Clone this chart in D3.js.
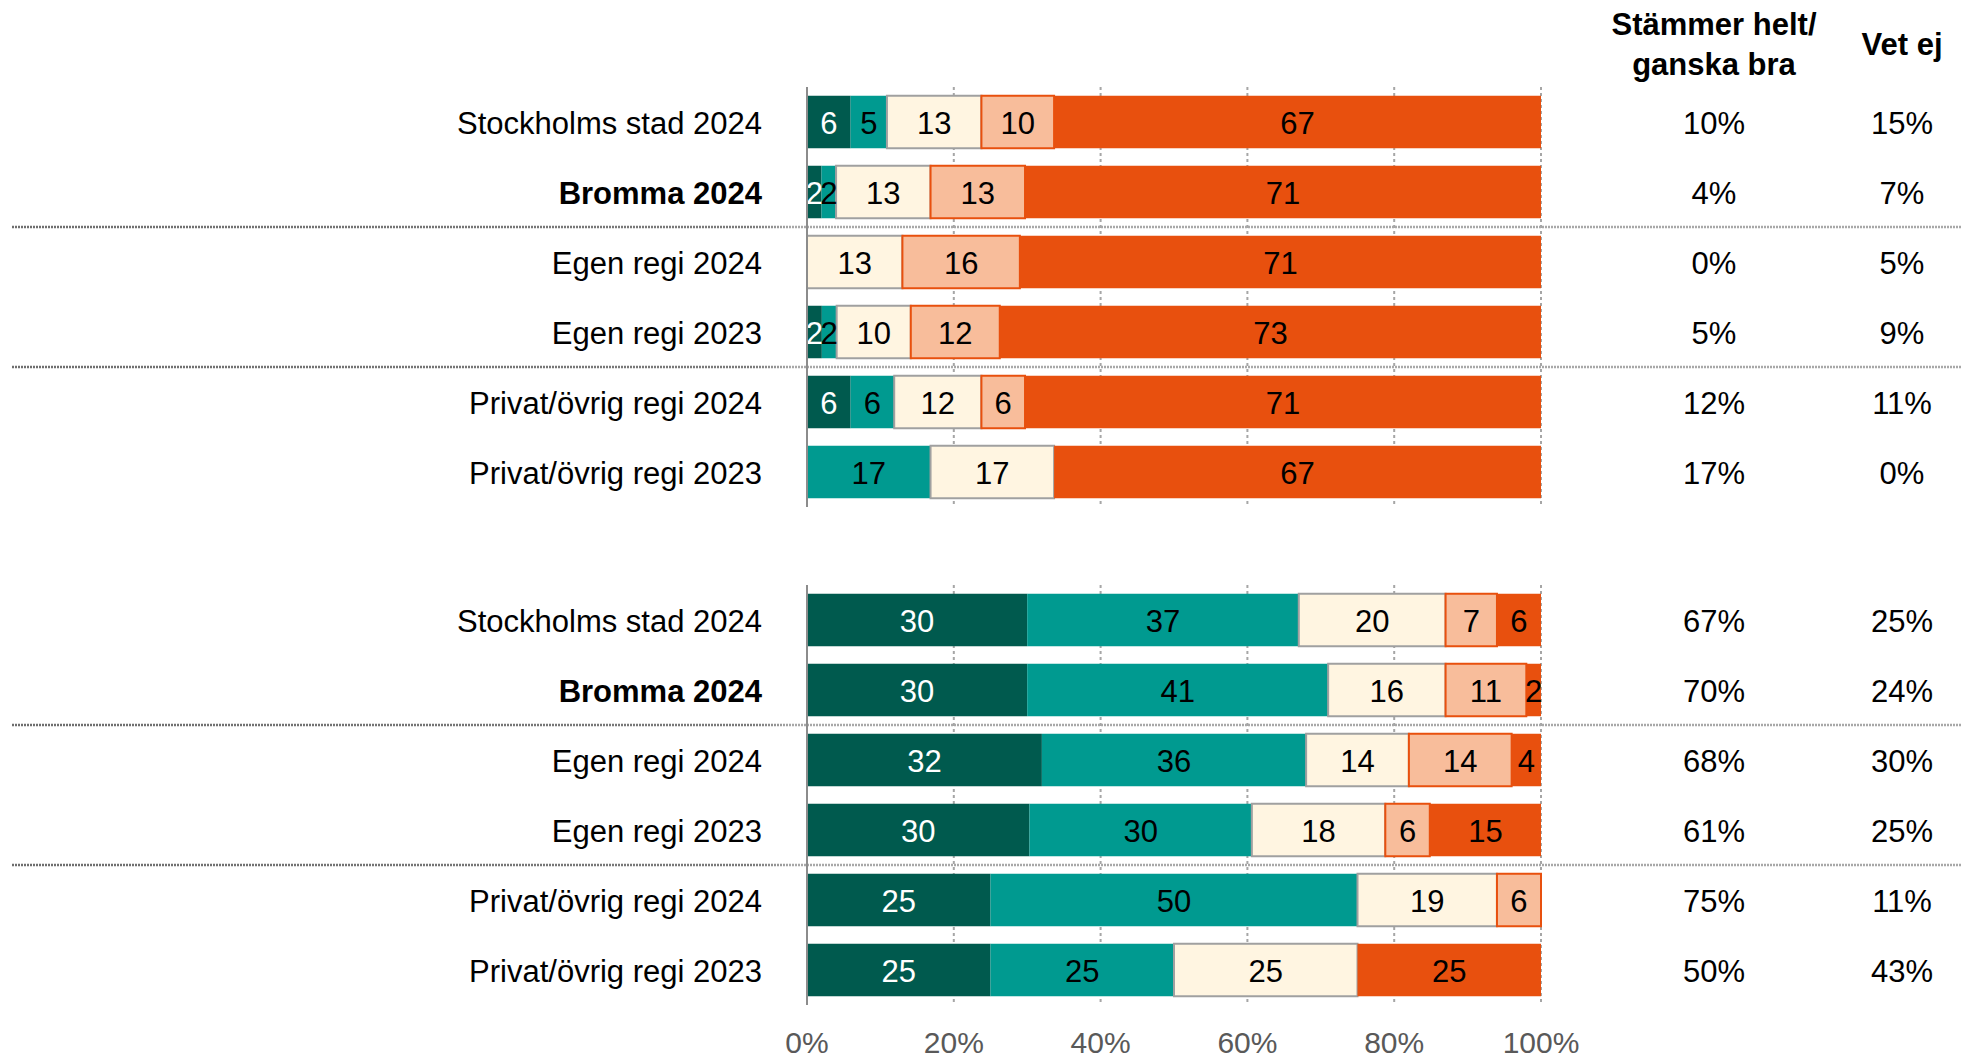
<!DOCTYPE html>
<html>
<head>
<meta charset="utf-8">
<script src="https://cdn.jsdelivr.net/npm/d3@7"></script>
<style>
  body { margin: 0; background: #fff; }
  svg { font-family: "Liberation Sans", Arial, sans-serif; }
</style>
</head>
<body>
<div id="chart"></div>
<script>
/*************************** DATA ***************************/
var rader = ['Stockholms stad 2024', 'Bromma 2024', 'Egen regi 2024', 'Egen regi 2023',
             'Privat/övrig regi 2024', 'Privat/övrig regi 2023'];
var fetRad = 'Bromma 2024';                     // label drawn in bold

// five answer categories, from "helt" to "inte alls"
var kategorier = ['k1', 'k2', 'k3', 'k4', 'k5'];

// upper block
var varden1 = [
    [6, 5, 13, 10, 67],
    [2, 2, 13, 13, 71],
    [0, 0, 13, 16, 71],
    [2, 2, 10, 12, 73],
    [6, 6, 12, 6, 71],
    [0, 17, 17, 0, 67]
];
var stammer1 = ['10%', '4%', '0%', '5%', '12%', '17%'];
var vetej1   = ['15%', '7%', '5%', '9%', '11%', '0%'];

// lower block
var varden2 = [
    [30, 37, 20, 7, 6],
    [30, 41, 16, 11, 2],
    [32, 36, 14, 14, 4],
    [30, 30, 18, 6, 15],
    [25, 50, 19, 6, 0],
    [25, 25, 25, 0, 25]
];
var stammer2 = ['67%', '70%', '68%', '61%', '75%', '50%'];
var vetej2   = ['25%', '24%', '30%', '25%', '11%', '43%'];

var ticks = [0, 20, 40, 60, 80, 100];

/*************************** STYLES ***************************/
var fyllning = ['#005a4e', '#009a90', '#fff5e1', '#f8bd9b', '#e8500e'];
var kant     = [null, null, '#a0a0a0', '#e8500e', null];
var textfarg = ['#ffffff', '#000000', '#000000', '#000000', '#000000'];
var fontSize = 31;

var bredd = 1972, hojd = 1059;

var svg = d3.select('#chart').append('svg')
    .attr('width', bredd)
    .attr('height', hojd);

// separator line: darker under the labels, lighter across the chart
var grad = svg.append('defs').append('linearGradient')
    .attr('id', 'sepgrad')
    .attr('gradientUnits', 'userSpaceOnUse')
    .attr('x1', 12).attr('x2', 1962);
grad.append('stop').attr('offset', 0).attr('stop-color', '#6e6e6e');
grad.append('stop').attr('offset', 0.38).attr('stop-color', '#7a7a7a');
grad.append('stop').attr('offset', 0.40).attr('stop-color', '#a8a8a8');
grad.append('stop').attr('offset', 1).attr('stop-color', '#a8a8a8');

var x = d3.scaleLinear().domain([0, 100]).range([807, 1541]);
var kolStammer = 1714, kolVetej = 1902;

// column headers
var rubrik = svg.append('g').attr('id', 'grubrik')
    .attr('font-weight', 'bold')
    .attr('font-size', fontSize)
    .attr('text-anchor', 'middle');
rubrik.append('text').attr('x', kolStammer).attr('y', 35).text('Stämmer helt/');
rubrik.append('text').attr('x', kolStammer).attr('y', 75).text('ganska bra');
rubrik.append('text').attr('x', kolVetej).attr('y', 55).text('Vet ej');

ritaBlock(varden1, stammer1, vetej1, [87, 507]);
ritaBlock(varden2, stammer2, vetej2, [585, 1005]);

// x axis labels at the bottom
svg.append('g').attr('id', 'gticks')
    .selectAll('text')
    .data(ticks)
    .enter()
    .append('text')
    .attr('x', function(d) { return x(d); })
    .attr('y', 1053)
    .attr('text-anchor', 'middle')
    .attr('font-size', 30)
    .attr('fill', '#595959')
    .text(function(d) { return d + '%'; });

/*************************** FUNCTIONS ***************************/
function ritaBlock(varden, stammer, vetej, yRange) {
    var y = d3.scaleBand().domain(rader).range(yRange).paddingInner(0.25).paddingOuter(0.125);
    var g = svg.append('g');

    // dotted gridlines
    g.append('g').selectAll('line')
        .data(ticks.slice(1))
        .enter()
        .append('line')
        .attr('x1', function(d) { return x(d); })
        .attr('x2', function(d) { return x(d); })
        .attr('y1', yRange[0])
        .attr('y2', yRange[1])
        .attr('stroke', '#a6a6a6')
        .attr('stroke-width', 2)
        .attr('stroke-dasharray', '3,3');

    // separators between the groups of rows
    g.append('g').selectAll('line')
        .data([2, 4])
        .enter()
        .append('line')
        .attr('x1', 12)
        .attr('x2', 1962)
        .attr('y1', function(i) { return (y(rader[i - 1]) + y(rader[i]) + y.bandwidth()) / 2; })
        .attr('y2', function(i) { return (y(rader[i - 1]) + y(rader[i]) + y.bandwidth()) / 2; })
        .attr('stroke', 'url(#sepgrad)')
        .attr('stroke-width', 2.5)
        .attr('stroke-dasharray', '2,1');

    rader.forEach(function(rad, r) {
        var summa = d3.sum(varden[r]);
        var start = 0;
        var segment = varden[r].map(function(v, k) {
            var s = { k: k, v: v, x0: start / summa * 100, x1: (start + v) / summa * 100 };
            start += v;
            return s;
        }).filter(function(s) { return s.v > 0; });

        var rg = g.append('g');
        rg.selectAll('rect')
            .data(segment)
            .enter()
            .append('rect')
            .attr('x', function(s) { return x(s.x0); })
            .attr('y', y(rad))
            .attr('width', function(s) { return x(s.x1) - x(s.x0); })
            .attr('height', y.bandwidth())
            .attr('fill', function(s) { return fyllning[s.k]; })
            .attr('stroke', function(s) { return kant[s.k]; })
            .attr('stroke-width', 2);

        rg.selectAll('text')
            .data(segment)
            .enter()
            .append('text')
            .attr('x', function(s) { return x((s.x0 + s.x1) / 2); })
            .attr('y', y(rad) + y.bandwidth() / 2)
            .attr('dy', '0.38em')
            .attr('text-anchor', 'middle')
            .attr('font-size', fontSize)
            .attr('fill', function(s) { return textfarg[s.k]; })
            .text(function(s) { return s.v; });

        var cy = y(rad) + y.bandwidth() / 2;
        // row label
        g.append('text')
            .attr('x', 762)
            .attr('y', cy)
            .attr('dy', '0.4em')
            .attr('text-anchor', 'end')
            .attr('font-size', fontSize)
            .attr('font-weight', rad === fetRad ? 'bold' : 'normal')
            .text(rad);

        // right hand columns
        g.append('text')
            .attr('x', kolStammer).attr('y', cy).attr('dy', '0.4em')
            .attr('text-anchor', 'middle').attr('font-size', fontSize)
            .text(stammer[r]);
        g.append('text')
            .attr('x', kolVetej).attr('y', cy).attr('dy', '0.4em')
            .attr('text-anchor', 'middle').attr('font-size', fontSize)
            .text(vetej[r]);
    });

    // y axis line
    g.append('line')
        .attr('x1', x(0)).attr('x2', x(0))
        .attr('y1', yRange[0]).attr('y2', yRange[1])
        .attr('stroke', '#8c8c8c')
        .attr('stroke-width', 2);
}
</script>
</body>
</html>
